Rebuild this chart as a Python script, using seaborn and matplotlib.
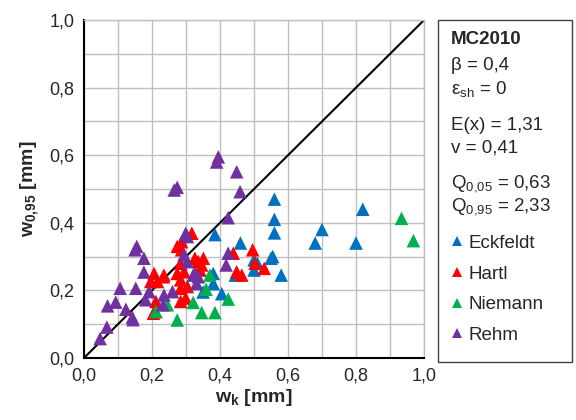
import numpy as np
import pandas as pd
import seaborn as sns
import matplotlib.pyplot as plt
from matplotlib.patches import Rectangle
from matplotlib.ticker import MultipleLocator, FuncFormatter

# data: w_k [mm] vs. w_0,95 [mm]
eck_x = [0.56, 0.56, 0.56, 0.70, 0.68, 0.82, 0.80, 0.55, 0.58, 0.50, 0.50, 0.385,
         0.46, 0.555, 0.445, 0.38, 0.38, 0.35, 0.405, 0.51]
eck_y = [0.47, 0.41, 0.37, 0.38, 0.34, 0.44, 0.34, 0.295, 0.245, 0.26, 0.29, 0.365,
         0.34, 0.30, 0.245, 0.25, 0.22, 0.195, 0.19, 0.28]

hartl_x = [0.496, 0.503, 0.53, 0.317, 0.439, 0.449, 0.464, 0.351, 0.336, 0.341, 0.206,
           0.235, 0.196, 0.216, 0.274, 0.284, 0.294, 0.284, 0.304, 0.284, 0.299, 0.284,
           0.211, 0.211, 0.274, 0.287, 0.287, 0.326, 0.346, 0.204, 0.233]
hartl_y = [0.32, 0.28, 0.265, 0.369, 0.31, 0.255, 0.245, 0.295, 0.285, 0.26, 0.25,
           0.245, 0.226, 0.226, 0.25, 0.28, 0.255, 0.231, 0.211, 0.206, 0.177, 0.167,
           0.167, 0.137, 0.33, 0.344, 0.32, 0.295, 0.275, 0.132, 0.24]

niem_x = [0.934, 0.969, 0.37, 0.359, 0.424, 0.321, 0.346, 0.385, 0.274, 0.211, 0.245]
niem_y = [0.413, 0.347, 0.245, 0.203, 0.174, 0.164, 0.134, 0.134, 0.112, 0.137, 0.157]

rehm_x = [0.39, 0.395, 0.449, 0.459, 0.424, 0.265, 0.274, 0.299, 0.304, 0.155, 0.15,
          0.176, 0.176, 0.106, 0.152, 0.069, 0.093, 0.123, 0.142, 0.144, 0.067, 0.047,
          0.191, 0.181, 0.232, 0.235, 0.26, 0.294, 0.304, 0.424, 0.418, 0.326, 0.331,
          0.321, 0.336]
rehm_y = [0.58, 0.595, 0.551, 0.492, 0.415, 0.497, 0.505, 0.369, 0.359, 0.33, 0.32,
          0.295, 0.254, 0.206, 0.206, 0.154, 0.165, 0.144, 0.12, 0.113, 0.091, 0.057,
          0.196, 0.172, 0.157, 0.186, 0.196, 0.305, 0.285, 0.31, 0.275, 0.25, 0.22,
          0.245, 0.24]

series = ["Eckfeldt", "Hartl", "Niemann", "Rehm"]
colors = ["#0070C0", "#FF0000", "#00B050", "#7030A0"]

df = pd.concat([
    pd.DataFrame({"wk": eck_x, "w95": eck_y, "Quelle": "Eckfeldt"}),
    pd.DataFrame({"wk": hartl_x, "w95": hartl_y, "Quelle": "Hartl"}),
    pd.DataFrame({"wk": niem_x, "w95": niem_y, "Quelle": "Niemann"}),
    pd.DataFrame({"wk": rehm_x, "w95": rehm_y, "Quelle": "Rehm"}),
], ignore_index=True)

sns.set_style("white")
plt.rcParams["font.family"] = ["Liberation Sans", "DejaVu Sans"]
plt.rcParams["mathtext.fontset"] = "custom"
plt.rcParams["mathtext.rm"] = "Liberation Sans"
plt.rcParams["mathtext.it"] = "Liberation Sans"
plt.rcParams["mathtext.bf"] = "Liberation Sans:bold"

fig = plt.figure(figsize=(5.76, 4.2), dpi=100)
ax = fig.add_axes([0.146, 0.148, 0.590, 0.804])

ax.plot([0, 1], [0, 1], color="black", lw=1.5, zorder=1)
sns.scatterplot(data=df, x="wk", y="w95", hue="Quelle", hue_order=series,
                palette=colors, marker="^", s=95, linewidth=0, ax=ax, zorder=3)

ax.set_xlim(0, 1)
ax.set_ylim(0, 1)
ax.xaxis.set_major_locator(MultipleLocator(0.2))
ax.yaxis.set_major_locator(MultipleLocator(0.2))
ax.xaxis.set_minor_locator(MultipleLocator(0.1))
ax.yaxis.set_minor_locator(MultipleLocator(0.1))
fmt = FuncFormatter(lambda v, p: f"{v:.1f}".replace(".", ","))
ax.xaxis.set_major_formatter(fmt)
ax.yaxis.set_major_formatter(fmt)
ax.grid(True, which="both", color="#BFBFBF", lw=1)
ax.set_axisbelow(True)
ax.tick_params(which="both", length=0, labelsize=13, pad=7)
for s in ["left", "bottom"]:
    ax.spines[s].set_color("black")
    ax.spines[s].set_linewidth(1.5)
for s in ["top", "right"]:
    ax.spines[s].set_color("#BFBFBF")
    ax.spines[s].set_linewidth(1)

ax.set_xlabel(r"$\mathbf{w_k}$ [mm]", fontsize=14, fontweight="bold", labelpad=2)
ax.set_ylabel(r"$\mathbf{w_{0{,}95}}$ [mm]", fontsize=14, fontweight="bold", labelpad=6)

# info box on the right
fig.patches.append(Rectangle((438 / 576, 1 - 362 / 420), 134 / 576, 342 / 420,
                             transform=fig.transFigure, fill=False,
                             edgecolor="#404040", lw=1))
tx = 451 / 576
fig.text(tx, 1 - 40 / 420, "MC2010", fontsize=13.5, fontweight="bold", va="center")
lines = [(65, "β = 0,4"), (89, r"ε$_{\mathrm{sh}}$ = 0"),
         (125, "E(x) = 1,31"), (148, "v = 0,41"),
         (184, r"Q$_{0{,}05}$ = 0,63"), (207, r"Q$_{0{,}95}$ = 2,33")]
for y, t in lines:
    fig.text(tx, 1 - y / 420, t, fontsize=13.5, va="center")

sns.move_legend(ax, "upper left", bbox_to_anchor=(429 / 576, 1 - 218 / 420),
                bbox_transform=fig.transFigure, title=None, frameon=False,
                fontsize=13.5, labelspacing=0.72, handletextpad=0.0,
                handlelength=1.2, markerscale=0.7)

fig.savefig("out.png", dpi=100)
